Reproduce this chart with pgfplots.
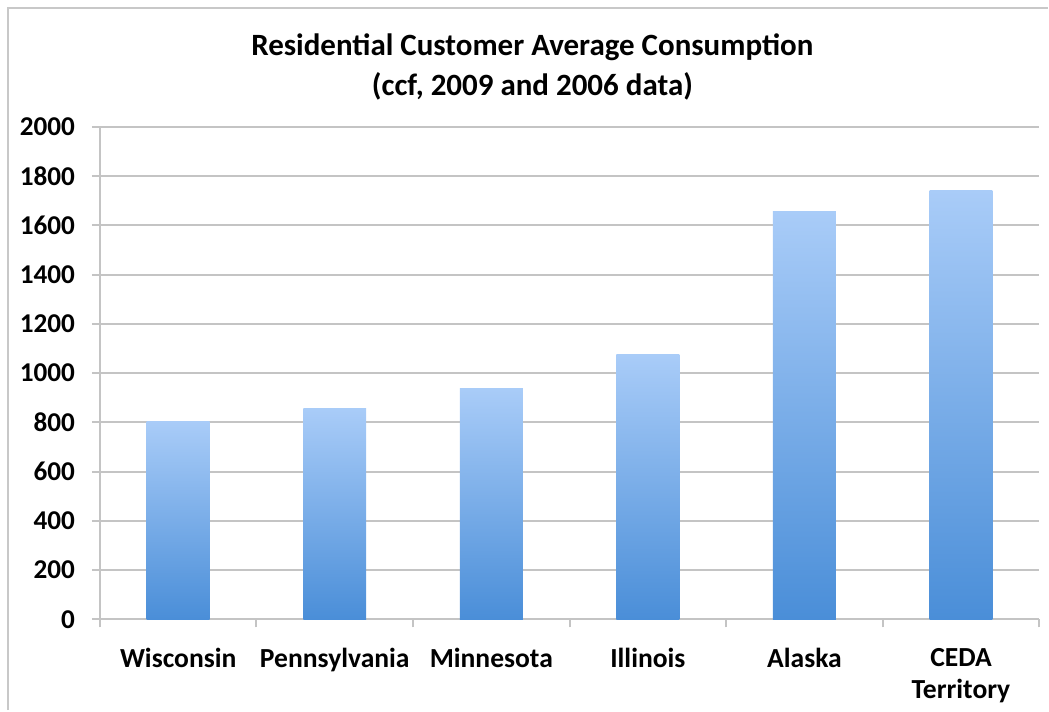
\documentclass[border=0pt]{standalone}
\usepackage{pgfplots}
\pgfplotsset{compat=1.18}
\usepackage{fontspec}
\setmainfont{Carlito}
\definecolor{barTop}{HTML}{A9CCF8}
\definecolor{barBot}{HTML}{4A8ED8}
\definecolor{gridc}{HTML}{C4C4C4}
\definecolor{framec}{HTML}{C8C8C8}
\pgfdeclareverticalshading{barshade}{100bp}{color(0bp)=(barBot); color(25bp)=(barBot); color(75bp)=(barTop); color(100bp)=(barTop)}
\pgfplotsset{mybar/.style={ybar, bar width=31.5pt, draw=none, shading=barshade}}
\begin{document}
\begin{tikzpicture}
\begin{axis}[
  scale only axis, width=470.25pt, height=246.5pt,
  xmin=-0.5, xmax=5.5, ymin=0, ymax=2000,
  ytick distance=200,
  xtick={0,...,5},
  xticklabels={Wisconsin,Pennsylvania,Minnesota,Illinois,Alaska,{CEDA\\Territory}},
  minor xtick={-0.5,0.5,...,5.5},
  major x tick style={draw=none},
  x tick label style={font=\bfseries\fontsize{13.8}{16}\selectfont, align=center, anchor=north, yshift=-7pt},
  y tick label style={font=\bfseries\fontsize{13.6}{15}\selectfont, xshift=-5pt},
  /pgf/number format/assume math mode=true,
  /pgf/number format/1000 sep={},
  tick align=outside,
  major tick length=4pt, minor tick length=4pt,
  tick style={gridc, line width=1pt},
  ymajorgrids, grid style={gridc, line width=1pt},
  axis x line*=bottom, axis y line*=left,
  axis line style={gridc, line width=1pt, -},
  clip=false,
]
\addplot[mybar] coordinates {(0,804)};
\addplot[mybar] coordinates {(1,856)};
\addplot[mybar] coordinates {(2,938)};
\addplot[mybar] coordinates {(3,1077)};
\addplot[mybar] coordinates {(4,1658)};
\addplot[mybar] coordinates {(5,1742)};
\end{axis}
\coordinate (BL) at ([shift={(-50pt,-45.5pt)}]current axis.south west);
\coordinate (TR) at ([shift={(474.5pt,310pt)}]current axis.south west);
\path (BL) rectangle (TR);
\draw[framec, line width=1.2pt] ([shift={(4pt,0pt)}]BL) |- ([shift={(0pt,-4pt)}]TR);
\node[font=\bfseries\fontsize{15.5}{20}\selectfont, align=center]
  at ([shift={(266.5pt,322pt)}]BL)
  {Residential Customer Average Consumption\\(ccf, 2009 and 2006 data)};
\end{tikzpicture}
\end{document}
